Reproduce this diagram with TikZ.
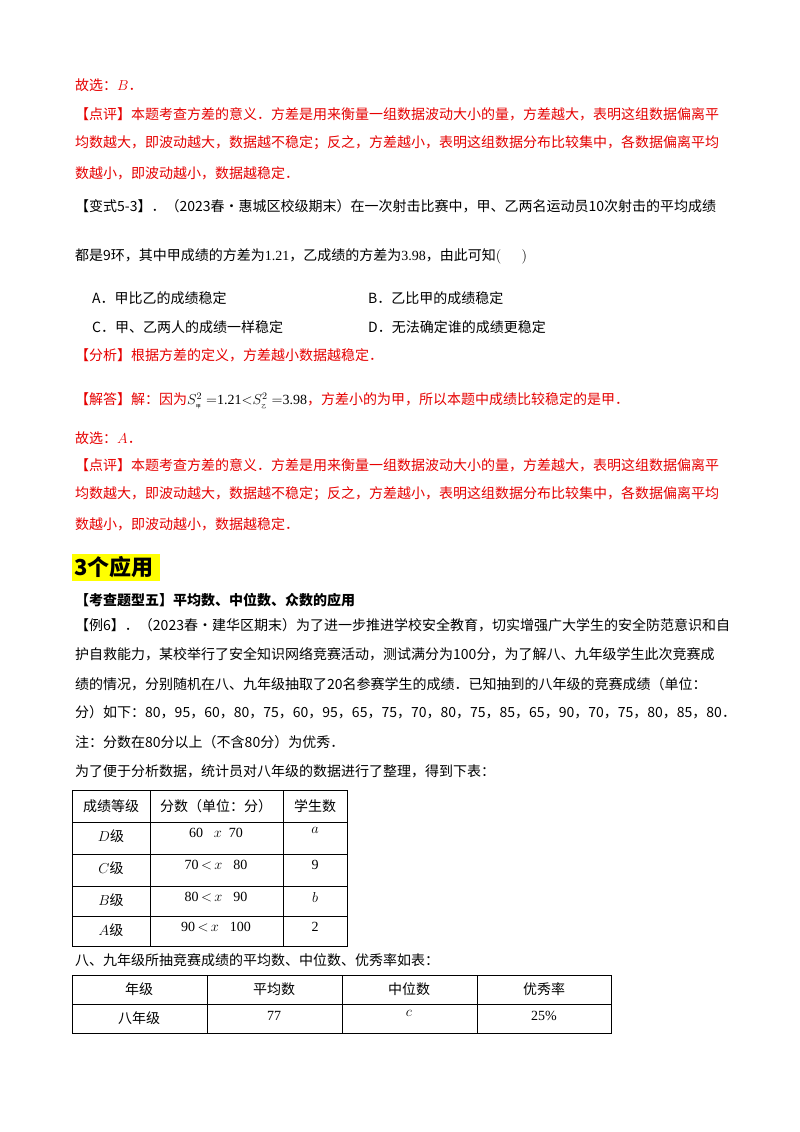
\documentclass[tikz,border=0pt]{standalone}
\usepackage{fontspec}
\setmainfont{Noto Sans CJK SC}
\newfontfamily\lat{Liberation Serif}
\definecolor{rd}{RGB}{230,0,0}
\definecolor{hl}{RGB}{255,255,0}
\newcommand\repch{{\char"FFFD\relax}}
\begin{document}
\begin{tikzpicture}[x=1pt,y=-1pt,
 t/.style={anchor=west,inner sep=0pt,font=\fontsize{14}{16}\selectfont},
 r/.style={t,text=rd},
 c/.style={inner sep=0pt,font=\fontsize{14}{16}\selectfont}]
\useasboundingbox[fill=white] (0,0) rectangle (800,1132);
\node[r] (l1) at (75,85) {故选：$B$．};
\node[r] (l2) at (75,114) {【点评】本题考查方差的意义．方差是用来衡量一组数据波动大小的量，方差越大，表明这组数据偏离平};
\node[r] (l3) at (75,143) {均数越大，即波动越大，数据越不稳定；反之，方差越小，表明这组数据分布比较集中，各数据偏离平均};
\node[r] (l4) at (75,173) {数越小，即波动越小，数据越稳定．};
\node[t] (l5) at (75,206) {【变式5-3】．（2023春•惠城区校级期末）在一次射击比赛中，甲、乙两名运动员10次射击的平均成绩};
\node[t] (l6) at (75,256) {都是9环，其中甲成绩的方差为{\lat 1.21}，乙成绩的方差为{\lat 3.98}，由此可知$\big($\quad\ \ $\big)$};
\node[t] (a) at (92,298) {A．甲比乙的成绩稳定};
\node[t] (b) at (368,298) {B．乙比甲的成绩稳定};
\node[t] (cc) at (92,327) {C．甲、乙两人的成绩一样稳定};
\node[t] (d) at (368,327) {D．无法确定谁的成绩更稳定};
\node[r] (l7) at (75,355) {【分析】根据方差的定义，方差越小数据越稳定．};
\node[r] (l8) at (75,401) {【解答】解：因为{\color{black}$S^2_{\mbox{\tiny 甲}}=${\lat 1.21}$<$$S^2_{\mbox{\tiny 乙}}=${\lat 3.98}}，方差小的为甲，所以本题中成绩比较稳定的是甲．};
\node[r] (l9) at (75,438) {故选：$A$．};
\node[r] (l10) at (75,465) {【点评】本题考查方差的意义．方差是用来衡量一组数据波动大小的量，方差越大，表明这组数据偏离平};
\node[r] (l11) at (75,494) {均数越大，即波动越大，数据越不稳定；反之，方差越小，表明这组数据分布比较集中，各数据偏离平均};
\node[r] (l12) at (75,524) {数越小，即波动越小，数据越稳定．};
\fill[hl] (72,554) rectangle (160,581);
\node[t,font=\fontsize{22}{24}\selectfont\bfseries] (h) at (74,567) {3个应用};
\node[t,font=\fontsize{14}{16}\selectfont\bfseries] (k) at (75,600) {【考查题型五】平均数、中位数、众数的应用};
\node[t] (e1) at (75,625) {【例6】．（2023春•建华区期末）为了进一步推进学校安全教育，切实增强广大学生的安全防范意识和自};
\node[t] (e2) at (75,654) {护自救能力，某校举行了安全知识网络竞赛活动，测试满分为100分，为了解八、九年级学生此次竞赛成};
\node[t] (e3) at (75,684) {绩的情况，分别随机在八、九年级抽取了20名参赛学生的成绩．已知抽到的八年级的竞赛成绩（单位：};
\node[t] (e4) at (75,712) {分）如下：80，95，60，80，75，60，95，65，75，70，80，75，85，65，90，70，75，80，85，80．};
\node[t] (e5) at (75,742) {注：分数在80分以上（不含80分）为优秀．};
\node[t] (e6) at (75,771) {为了便于分析数据，统计员对八年级的数据进行了整理，得到下表：};
% table 1
\draw[line width=0.6pt] (72,790) rectangle (347,946);
\foreach \y in {822,854,886,916} \draw[line width=0.6pt] (72,\y)--(347,\y);
\foreach \x in {150,283} \draw[line width=0.6pt] (\x,790)--(\x,946);
\node[c] (t11) at (111,806) {成绩等级};
\node[c] (t12) at (216,806) {分数（单位：分）};
\node[c] (t13) at (315,806) {学生数};
\node[c] (t21) at (111,836) {$D$级};
\node[c] (t22) at (216,833) {\lat 60剟$x$\ \ 70};
\node[c] (t23) at (315,830) {$a$};
\node[c] (t31) at (111,868) {$C$级};
\node[c] (t32) at (216,865) {\lat 70\,$<$\,$x$\repch 80};
\node[c] (t33) at (315,865) {\lat 9};
\node[c] (t41) at (111,900) {$B$级};
\node[c] (t42) at (216,897) {\lat 80\,$<$\,$x$\repch 90};
\node[c] (t43) at (315,897) {$b$};
\node[c] (t51) at (111,930) {$A$级};
\node[c] (t52) at (216,927) {\lat 90\,$<$\,$x$\repch 100};
\node[c] (t53) at (315,927) {\lat 2};
\node[t] (e7) at (75,960) {八、九年级所抽竞赛成绩的平均数、中位数、优秀率如表：};
% table 2
\draw[line width=0.6pt] (72,975) rectangle (611,1033);
\draw[line width=0.6pt] (72,1004)--(611,1004);
\foreach \x in {207,342,477} \draw[line width=0.6pt] (\x,975)--(\x,1033);
\node[c] (u1) at (139,989) {年级};
\node[c] (u2) at (274,989) {平均数};
\node[c] (u3) at (409,989) {中位数};
\node[c] (u4) at (544,989) {优秀率};
\node[c] (v1) at (139,1018) {八年级};
\node[c] (v2) at (274,1016) {\lat 77};
\node[c] (v3) at (409,1013) {$c$};
\node[c] (v4) at (544,1016) {\lat 25\%};
\end{tikzpicture}
\end{document}
